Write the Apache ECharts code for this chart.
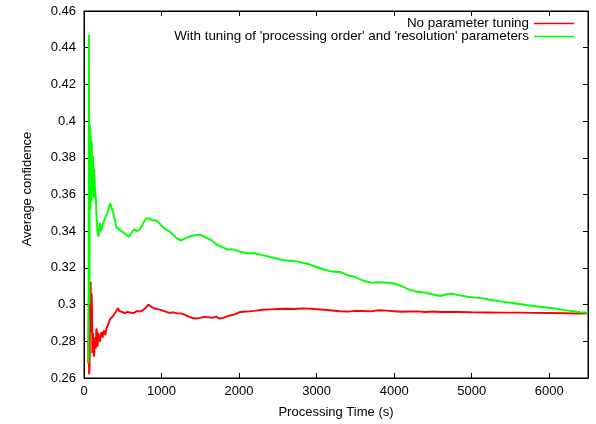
<!DOCTYPE html>
<html>
<head>
<meta charset="utf-8">
<script src="https://cdn.jsdelivr.net/npm/echarts@6/dist/echarts.min.js"></script>
<style>
  html, body { margin: 0; padding: 0; background: #fff; }
  #main { width: 596px; height: 424px; }
</style>
</head>
<body>
<div id="main"></div>
<script>
var seriesNames = ['No parameter tuning', "With tuning of 'processing order' and 'resolution' parameters"];

// [time (s), average confidence]
var noTuning = [
  [55, 0.268], [62, 0.303], [66, 0.262], [72, 0.266], [80, 0.300], [86, 0.3125], [92, 0.285], [98, 0.306],
  [103, 0.298], [108, 0.2735], [115, 0.2845], [122, 0.279], [130, 0.2716], [137, 0.282], [145, 0.2818],
  [152, 0.276], [160, 0.287], [167, 0.285], [175, 0.277], [183, 0.2845], [195, 0.281], [205, 0.2798],
  [214, 0.283], [225, 0.285], [240, 0.282], [255, 0.286], [274, 0.2834], [290, 0.287], [305, 0.2872],
  [320, 0.290], [335, 0.292], [351, 0.2916], [370, 0.2935], [390, 0.2927], [410, 0.296], [437, 0.298],
  [455, 0.2965], [480, 0.2968], [505, 0.2958], [531, 0.2954], [560, 0.296], [590, 0.2957], [620, 0.2955],
  [647, 0.2954], [680, 0.2965], [720, 0.2962], [760, 0.297], [800, 0.2985], [830, 0.300], [860, 0.299],
  [900, 0.298], [950, 0.2975], [1000, 0.297], [1050, 0.2962], [1100, 0.2955], [1150, 0.2958], [1200, 0.2952],
  [1250, 0.2952], [1300, 0.2945], [1350, 0.2935], [1400, 0.2927], [1450, 0.2924], [1500, 0.2928],
  [1550, 0.2933], [1600, 0.2932], [1650, 0.2928], [1700, 0.2934], [1750, 0.2924], [1800, 0.2928],
  [1850, 0.2937], [1900, 0.2942], [1950, 0.2948], [2000, 0.2958], [2050, 0.2961], [2100, 0.2962],
  [2200, 0.2966], [2300, 0.2972], [2400, 0.2974], [2500, 0.2976], [2600, 0.2977], [2700, 0.2976],
  [2800, 0.2979], [2900, 0.2978], [3000, 0.2975], [3100, 0.2972], [3200, 0.2968], [3300, 0.2964],
  [3400, 0.2962], [3500, 0.2966], [3600, 0.2965], [3700, 0.2963], [3800, 0.2969], [3900, 0.2967],
  [4000, 0.2964], [4100, 0.2961], [4200, 0.2962], [4300, 0.2963], [4400, 0.2960], [4500, 0.2962],
  [4600, 0.2960], [4800, 0.2960], [5000, 0.2958], [5200, 0.2957], [5400, 0.2956], [5600, 0.2956],
  [5800, 0.2955], [6000, 0.2954], [6200, 0.2953], [6400, 0.2951], [6500, 0.2952]
];

var withTuning = [
  [58, 0.268], [64, 0.447], [70, 0.300], [76, 0.398], [82, 0.352], [88, 0.392], [94, 0.356], [100, 0.389],
  [106, 0.362], [111, 0.364], [118, 0.381], [124, 0.358], [130, 0.374], [137, 0.366], [146, 0.367],
  [154, 0.357], [163, 0.346], [175, 0.340], [189, 0.337], [198, 0.342], [206, 0.3445], [218, 0.340],
  [231, 0.341], [245, 0.344], [261, 0.346], [280, 0.348], [304, 0.350], [320, 0.353], [339, 0.355],
  [355, 0.353], [377, 0.350], [398, 0.346], [420, 0.342], [450, 0.341], [475, 0.340], [497, 0.3396],
  [520, 0.339], [545, 0.338], [583, 0.337], [610, 0.339], [647, 0.341], [680, 0.340], [720, 0.341],
  [760, 0.344], [800, 0.347], [840, 0.347], [880, 0.346], [920, 0.346], [960, 0.345], [1000, 0.343],
  [1050, 0.341], [1100, 0.340], [1150, 0.338], [1200, 0.336], [1250, 0.335], [1300, 0.336], [1350, 0.337],
  [1400, 0.3375], [1450, 0.338], [1500, 0.338], [1550, 0.337], [1600, 0.336], [1650, 0.335], [1700, 0.333],
  [1750, 0.332], [1800, 0.331], [1850, 0.330], [1900, 0.3302], [1950, 0.3298], [2000, 0.329], [2100, 0.328],
  [2200, 0.328], [2300, 0.327], [2400, 0.326], [2500, 0.325], [2600, 0.324], [2700, 0.3238], [2800, 0.323],
  [2900, 0.322], [3000, 0.3205], [3100, 0.319], [3200, 0.318], [3300, 0.3178], [3400, 0.316], [3500, 0.315],
  [3600, 0.313], [3700, 0.312], [3800, 0.3122], [3900, 0.312], [4000, 0.3115], [4100, 0.310], [4200, 0.308],
  [4300, 0.307], [4400, 0.3065], [4500, 0.3055], [4600, 0.3047], [4700, 0.306], [4760, 0.3058], [4850, 0.305],
  [4950, 0.3043], [5050, 0.3038], [5150, 0.3034], [5250, 0.3025], [5400, 0.3016], [5550, 0.3007],
  [5700, 0.2998], [5850, 0.299], [6050, 0.298], [6200, 0.297], [6400, 0.2958], [6500, 0.2955]
];

var xMin = 0, xMax = 6500, xStep = 1000;
var yMin = 0.26, yMax = 0.46, yStep = 0.02;

var font = 'Liberation Sans, Arial, sans-serif';
var fs = 13;

var chart = echarts.init(document.getElementById('main'), null, { renderer: 'canvas' });

function ticks() {
  return { show: true, inside: true, length: 5, lineStyle: { color: '#000', width: 1 } };
}
function frameLine() {
  return { show: true, onZero: false, lineStyle: { color: '#000', width: 1 } };
}

var option = {
  animation: false,
  backgroundColor: '#fff',
  textStyle: { fontFamily: font },
  grid: { left: 84, right: 8, top: 11, bottom: 46, show: true, borderColor: '#000', borderWidth: 1 },
  legend: {
    orient: 'vertical',
    right: 22,
    top: 17,
    padding: 0,
    align: 'right',
    itemGap: 0,
    itemWidth: 40,
    itemHeight: 1.5,
    icon: 'rect',
    textStyle: { color: '#000', fontSize: 13.4, fontFamily: font, lineHeight: 13 },
    data: seriesNames
  },
  xAxis: [
    {
      type: 'value', min: xMin, max: xMax, interval: xStep,
      name: 'Processing Time (s)', nameLocation: 'middle', nameGap: 28,
      nameTextStyle: { color: '#000', fontSize: fs, fontFamily: font },
      axisLine: frameLine(),
      axisTick: ticks(),
      axisLabel: {
        color: '#000', fontSize: fs, fontFamily: font, margin: 7, showMaxLabel: false,
        formatter: function (v) { return String(v); }
      },
      splitLine: { show: false }
    },
    {
      type: 'value', position: 'top', min: xMin, max: xMax, interval: xStep,
      axisLine: frameLine(),
      axisTick: ticks(),
      axisLabel: { show: false },
      splitLine: { show: false }
    }
  ],
  yAxis: [
    {
      type: 'value', min: yMin, max: yMax, interval: yStep,
      name: 'Average confidence', nameLocation: 'middle', nameGap: 50,
      nameTextStyle: { color: '#000', fontSize: fs, fontFamily: font, padding: [0, 0, 0, 11] },
      axisLine: frameLine(),
      axisTick: ticks(),
      axisLabel: {
        color: '#000', fontSize: fs, fontFamily: font, margin: 8,
        formatter: function (v) { return String(parseFloat(v.toFixed(2))); }
      },
      splitLine: { show: false }
    },
    {
      type: 'value', position: 'right', min: yMin, max: yMax, interval: yStep,
      axisLine: frameLine(),
      axisTick: ticks(),
      axisLabel: { show: false },
      splitLine: { show: false }
    }
  ],
  series: [
    {
      name: seriesNames[0], type: 'line', data: noTuning,
      showSymbol: false, symbol: 'none',
      color: '#ff0000',
      lineStyle: { color: '#ff0000', width: 1.9 }
    },
    {
      name: seriesNames[1], type: 'line', data: withTuning,
      showSymbol: false, symbol: 'none',
      color: '#00ff00',
      lineStyle: { color: '#00ff00', width: 1.9 }
    }
  ]
};

chart.setOption(option);
</script>
</body>
</html>
